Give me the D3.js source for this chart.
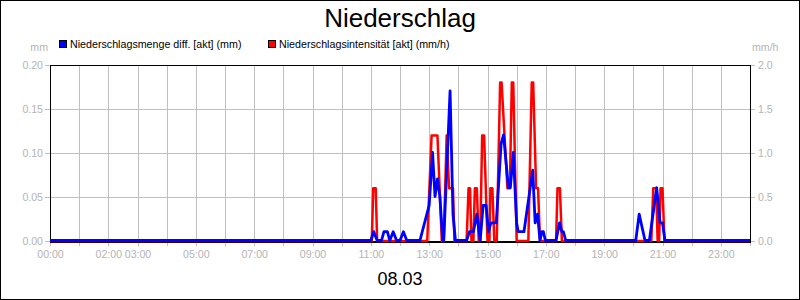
<!DOCTYPE html>
<html>
<head>
<meta charset="utf-8">
<script src="https://cdn.jsdelivr.net/npm/d3@7"></script>
<style>
  html, body { margin: 0; padding: 0; background: #fff; }
  svg { display: block; font-family: "Liberation Sans", Arial, sans-serif; }
</style>
</head>
<body>
<svg id="chart" width="800" height="300"></svg>
<script>
// ---- data ----
const chartTitle = "Niederschlag";
const dateLabel = "08.03";
const seriesNames = ["Niederschlagsmenge diff. [akt] (mm)", "Niederschlagsintensität [akt] (mm/h)"];
const seriesColors = ["#0000ff", "#ff0000"];
const leftUnit = "mm";
const rightUnit = "mm/h";
const leftTicks = [0, 0.05, 0.10, 0.15, 0.20];
const rightTicks = [0, 0.5, 1.0, 1.5, 2.0];
const hourTicks = d3.range(0, 25);
const xLabels = ["00:00", "02:00", "03:00", "05:00", "07:00", "09:00", "11:00", "13:00", "15:00", "17:00", "19:00", "21:00", "23:00"];

const mengeTimes = ["00:00","11:00","11:06","11:13","11:22","11:27","11:34","11:39","11:46","11:53","12:00","12:07","12:14",
  "12:41","13:00","13:07","13:12","13:17","13:22","13:28","13:30","13:43","13:49","13:54",
  "14:17","14:23","14:31","14:38","14:45","14:51","14:57","15:02","15:07","15:18","15:28","15:33","15:43","15:47","15:53",
  "16:00","16:03","16:15","16:33","16:38","16:43","16:48","16:52","16:55","16:59",
  "17:21","17:28","17:33","17:36","17:41","20:05","20:12","20:24","20:33","20:48","20:55","21:00","21:05","24:00"];
const mengeValues = [0,0,0.01,0,0,0.01,0.01,0,0.01,0,0,0.01,0,
  0,0.04,0.10,0.05,0.07,0.05,0,0,0.17,0.03,0,
  0,0.01,0.01,0.03,0,0.04,0.04,0.01,0.02,0.02,0.11,0.12,0.06,0.06,0.10,
  0.02,0.01,0.01,0.08,0.02,0.03,0,0.01,0.01,0,
  0,0.02,0.01,0.01,0,0,0.03,0,0,0.06,0.02,0.02,0,0];

const intensTimes = ["00:00","11:02","11:05","11:10","11:13","12:56","13:05","13:17","13:26","13:30","13:36","13:41","13:49","13:52",
  "14:17","14:21","14:24","14:27","14:31","14:34","14:38","14:42","14:45","14:49","14:53","15:00",
  "15:04","15:06","15:10","15:14","15:19","15:26","15:29","15:41","15:46","15:50","15:53","16:00",
  "16:24","16:31","16:34","16:40","16:44","16:48","17:21","17:24","17:29","17:33",
  "20:37","20:41","20:47","20:50","20:53","20:56","21:00","21:04","24:00"];
const intensValues = [0,0,0.6,0.6,0,0,1.2,1.2,0,0,1.2,0.6,0.6,0,
  0,0.6,0.6,0,0,0.6,0.6,0,0,1.2,1.2,0,
  0,0.6,0.6,0,0,1.8,1.8,0.6,0.6,1.8,1.8,0,
  0,1.8,1.8,0.6,0.6,0,0,0.6,0.6,0,
  0,0.6,0.6,0,0,0.6,0.6,0,0];

// ---- chart ----
const svg = d3.select("#chart");
const W = 800, H = 300;
const m = { left: 50, right: 50, top: 65, bottom: 59 };
const x0 = m.left, x1 = W - m.right, y0 = H - m.bottom, y1 = m.top;
const gray = "#b4b4b4";
const toMin = s => { const [h, mm] = s.split(":").map(Number); return h * 60 + mm; };

const x = d3.scaleLinear().domain([0, 1440]).range([x0, x1]);
const yL = d3.scaleLinear().domain([0, 0.2]).range([y0, y1]);
const yR = d3.scaleLinear().domain([0, 2.0]).range([y0, y1]);

svg.append("rect").attr("x", 0.5).attr("y", 0.5).attr("width", W - 1).attr("height", H - 1)
  .attr("fill", "#fff").attr("stroke", "#000");

// grid
const grid = svg.append("g").attr("stroke", "#c0c0c0").attr("stroke-width", 1);
hourTicks.forEach(h => {
  const px = Math.round(x(h * 60)) + 0.5;
  grid.append("line").attr("x1", px).attr("x2", px).attr("y1", y1).attr("y2", y0 + 5);
});
leftTicks.forEach(v => {
  const py = Math.round(yL(v)) + 0.5;
  grid.append("line").attr("x1", x0 - 5).attr("x2", x1 + 5).attr("y1", py).attr("y2", py);
});

// axes labels via d3 axes
const xAxis = d3.axisBottom(x).tickValues(xLabels.map(toMin)).tickSize(0).tickPadding(8)
  .tickFormat(d => { const h = Math.floor(d / 60); return String(h).padStart(2, "0") + ":00"; });
const gx = svg.append("g").attr("transform", `translate(0,${y0 + 1})`).call(xAxis);
const lAxis = d3.axisLeft(yL).tickValues(leftTicks).tickSize(0).tickPadding(7).tickFormat(d3.format(".2f"));
const gl = svg.append("g").attr("transform", `translate(${x0},0)`).call(lAxis);
const rAxis = d3.axisRight(yR).tickValues(rightTicks).tickSize(0).tickPadding(8).tickFormat(d3.format(".1f"));
const gr = svg.append("g").attr("transform", `translate(${x1},0)`).call(rAxis);
[gx, gl, gr].forEach(g => {
  g.select(".domain").remove();
  g.selectAll("text").attr("fill", gray).style("font-size", "10.6px").style("font-family", '"Liberation Sans", Arial, sans-serif');
});

// frame
const frame = svg.append("g").attr("stroke", "#000").attr("stroke-width", 1).attr("fill", "none");
frame.append("line").attr("x1", x0 + 0.5).attr("x2", x0 + 0.5).attr("y1", y1).attr("y2", y0 + 1);
frame.append("line").attr("x1", x1 + 0.5).attr("x2", x1 + 0.5).attr("y1", y1).attr("y2", y0 + 1);
frame.append("line").attr("x1", x0).attr("x2", x1 + 1).attr("y1", y1 + 0.5).attr("y2", y1 + 0.5);
frame.append("line").attr("x1", x0).attr("x2", x1 + 1).attr("y1", y0 + 1).attr("y2", y0 + 1).attr("stroke-width", 2);

// lines
const redData = intensTimes.map((t, i) => [toMin(t), intensValues[i]]);
const blueData = mengeTimes.map((t, i) => [toMin(t), mengeValues[i]]);
svg.append("path").datum(redData)
  .attr("d", d3.line().x(d => x(d[0])).y(d => yR(d[1])))
  .attr("fill", "none").attr("stroke", seriesColors[1]).attr("stroke-width", 2.5).attr("stroke-linejoin", "round");
svg.append("path").datum(blueData)
  .attr("d", d3.line().x(d => x(d[0])).y(d => yL(d[1]) - 0.5))
  .attr("fill", "none").attr("stroke", seriesColors[0]).attr("stroke-width", 2.8).attr("stroke-linejoin", "round");

// title
svg.append("text").attr("x", 400).attr("y", 27).attr("text-anchor", "middle")
  .style("font-size", "26px").attr("fill", "#000").text(chartTitle);

// legend
const legX = [59, 268];
seriesNames.forEach((n, i) => {
  svg.append("rect").attr("x", legX[i] + 0.5).attr("y", 40.5).attr("width", 7).attr("height", 7)
    .attr("fill", seriesColors[i]).attr("stroke", "#000").attr("stroke-width", 1);
  svg.append("text").attr("x", legX[i] + 11).attr("y", 48).style("font-size", "10.7px").attr("fill", "#000").text(n);
});

// units
svg.append("text").attr("x", 48).attr("y", 51).attr("text-anchor", "end").style("font-size", "10.6px").attr("fill", gray).text(leftUnit);
svg.append("text").attr("x", 752).attr("y", 51).style("font-size", "10.6px").attr("fill", gray).text(rightUnit);

// date
svg.append("text").attr("x", 400).attr("y", 285).attr("text-anchor", "middle")
  .style("font-size", "18px").attr("fill", "#000").text(dateLabel);
</script>
</body>
</html>
